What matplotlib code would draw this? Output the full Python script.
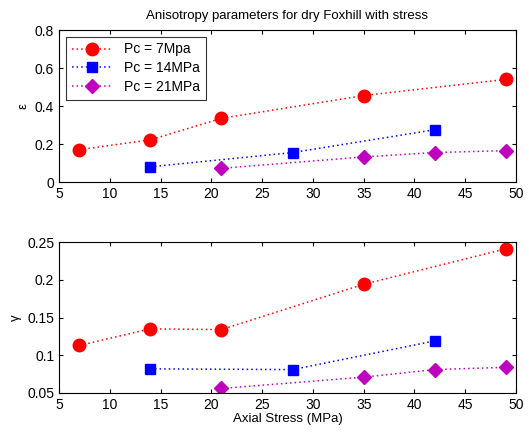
import matplotlib.pyplot as plt

plt.rcParams['font.family'] = ['Liberation Sans', 'DejaVu Sans']
plt.rcParams['font.size'] = 10

# axial stress (MPa) for each confining pressure
x_7 = [7, 14, 21, 35, 49]
x_14 = [14, 28, 42]
x_21 = [21, 35, 42, 49]

# epsilon
eps_7 = [0.17, 0.222, 0.335, 0.455, 0.54]
eps_14 = [0.08, 0.155, 0.275]
eps_21 = [0.072, 0.132, 0.155, 0.165]

# gamma
gam_7 = [0.113, 0.135, 0.134, 0.194, 0.241]
gam_14 = [0.082, 0.081, 0.119]
gam_21 = [0.056, 0.071, 0.081, 0.084]

labels = ['Pc = 7Mpa', 'Pc = 14MPa', 'Pc = 21MPa']

fig = plt.figure(figsize=(5.29, 4.34), dpi=100)
ax1 = fig.add_axes([59/529, 1 - 182/434, 457/529, 152/434])
ax2 = fig.add_axes([59/529, 1 - 393/434, 457/529, 151/434])

def draw(ax, ys):
    ax.plot(x_7, ys[0], color='red', ls=(0, (1, 2)), marker='o', markersize=9, lw=1.1, label=labels[0])
    ax.plot(x_14, ys[1], color='blue', ls=(0, (1, 2)), marker='s', markersize=7.5, lw=1.1, label=labels[1])
    ax.plot(x_21, ys[2], color='m', ls=(0, (1, 2)), marker='D', markersize=7.5, lw=1.1, label=labels[2])
    ax.set_xlim(5, 50)
    ax.tick_params(direction='in', top=True, right=True, labelsize=10, length=3)

draw(ax1, [eps_7, eps_14, eps_21])
ax1.set_ylim(0, 0.8)
ax1.set_yticks([0, 0.2, 0.4, 0.6, 0.8])
ax1.set_yticklabels(['0', '0.2', '0.4', '0.6', '0.8'])
ax1.set_ylabel('ε', fontsize=9.5)
ax1.set_title('Anisotropy parameters for dry Foxhill with stress', fontsize=9.5, pad=8)
leg = ax1.legend(loc='upper left', fontsize=10, fancybox=False, edgecolor='black',
                 borderaxespad=0.5, handlelength=3, labelspacing=0.35, borderpad=0.4)
leg.get_frame().set_linewidth(0.8)

draw(ax2, [gam_7, gam_14, gam_21])
ax2.set_ylim(0.05, 0.25)
ax2.set_yticks([0.05, 0.1, 0.15, 0.2, 0.25])
ax2.set_yticklabels(['0.05', '0.1', '0.15', '0.2', '0.25'])
ax2.set_ylabel('γ', fontsize=9.5)
ax2.set_xlabel('Axial Stress (MPa)', fontsize=9.5, labelpad=1)

plt.savefig('out.png', dpi=100)
